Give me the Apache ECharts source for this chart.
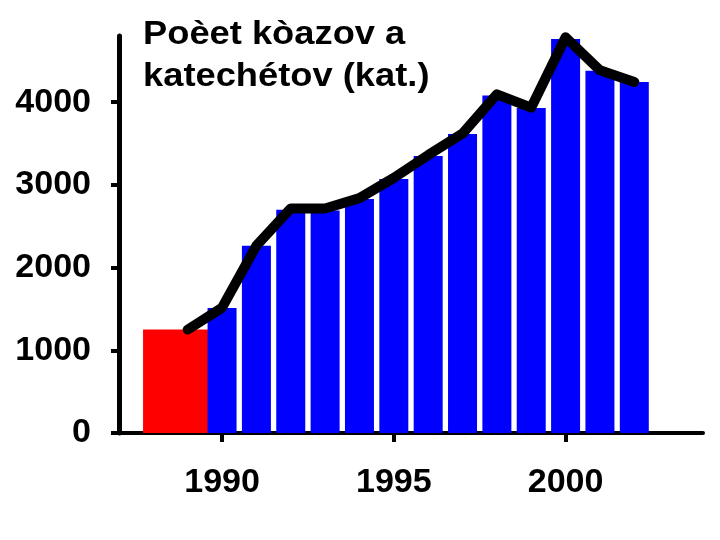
<!DOCTYPE html>
<html>
<head>
<meta charset="utf-8">
<script src="https://cdn.jsdelivr.net/npm/echarts@6/dist/echarts.min.js"></script>
<style>
html,body{margin:0;padding:0;background:#fff;}
#chart{width:720px;height:540px;}
</style>
</head>
<body>
<div id="chart"></div>
<script>
// Data
const titleText = 'Poèet kòazov a\nkatechétov (kat.)';
const years = [1990, 1991, 1992, 1993, 1994, 1995, 1996, 1997, 1998, 1999, 2000, 2001, 2002];
const barValues = [1510, 2265, 2700, 2690, 2830, 3070, 3350, 3615, 4080, 3930, 4765, 4380, 4245];
const earlyBarRange = [1987.7, 1989.6];   // red bar span (years)
const earlyBarValue = 1250;
const lineYears = [1989, 1990, 1991, 1992, 1993, 1994, 1995, 1996, 1997, 1998, 1999, 2000, 2001, 2002];
const lineValues = [1250, 1515, 2265, 2715, 2715, 2840, 3085, 3360, 3620, 4095, 3935, 4785, 4385, 4245];
const xTickYears = [1990, 1995, 2000];
const yTickValues = [0, 1000, 2000, 3000, 4000];

const chart = echarts.init(document.getElementById('chart'), null, {renderer: 'canvas'});
const font = '"Liberation Sans", Arial, sans-serif';
const plain = function (v) { return String(Math.round(v)); };

const option = {
  animation: false,
  backgroundColor: '#ffffff',
  grid: {left: 119, right: 17, top: 36, bottom: 107, containLabel: false},
  graphic: [{
    type: 'text',
    left: 143,
    top: 14,
    scaleX: 1.1,
    style: {
      text: titleText,
      font: 'bold 33px ' + font,
      fill: '#000',
      lineHeight: 42
    }
  }],
  xAxis: {
    type: 'value',
    min: 1987,
    max: 2004,
    splitLine: {show: false},
    axisLine: {show: true, onZero: false, lineStyle: {color: '#000', width: 4}},
    axisTick: {show: true, customValues: xTickYears, length: 9, lineStyle: {color: '#000', width: 4}},
    axisLabel: {show: true, customValues: xTickYears, formatter: plain, margin: 33, color: '#000',
      fontFamily: font, fontWeight: 'bold', fontSize: 34}
  },
  yAxis: {
    type: 'value',
    min: 0,
    max: 4800,
    splitLine: {show: false},
    axisLine: {show: true, lineStyle: {color: '#000', width: 5}},
    axisTick: {show: true, customValues: yTickValues, length: 8, lineStyle: {color: '#000', width: 4}},
    axisLabel: {show: true, customValues: yTickValues, formatter: plain, margin: 28, color: '#000',
      fontFamily: font, fontWeight: 'bold', fontSize: 34}
  },
  series: [
    {
      type: 'custom',
      z: 2,
      data: [[earlyBarRange[0], earlyBarRange[1], earlyBarValue]],
      renderItem: function (params, api) {
        const p0 = api.coord([api.value(0), api.value(2)]);
        const p1 = api.coord([api.value(1), 0]);
        return {
          type: 'rect',
          shape: {x: p0[0], y: p0[1], width: p1[0] - p0[0], height: p1[1] - p0[1]},
          style: {fill: '#ff0000'}
        };
      }
    },
    {
      type: 'bar',
      z: 2,
      barWidth: 29,
      itemStyle: {color: '#0000ff'},
      data: years.map((y, i) => [y, barValues[i]])
    },
    {
      type: 'line',
      z: 5,
      symbol: 'none',
      lineStyle: {color: '#000', width: 10, cap: 'round', join: 'round'},
      data: lineYears.map((y, i) => [y, lineValues[i]])
    }
  ]
};
chart.setOption(option);
</script>
</body>
</html>
